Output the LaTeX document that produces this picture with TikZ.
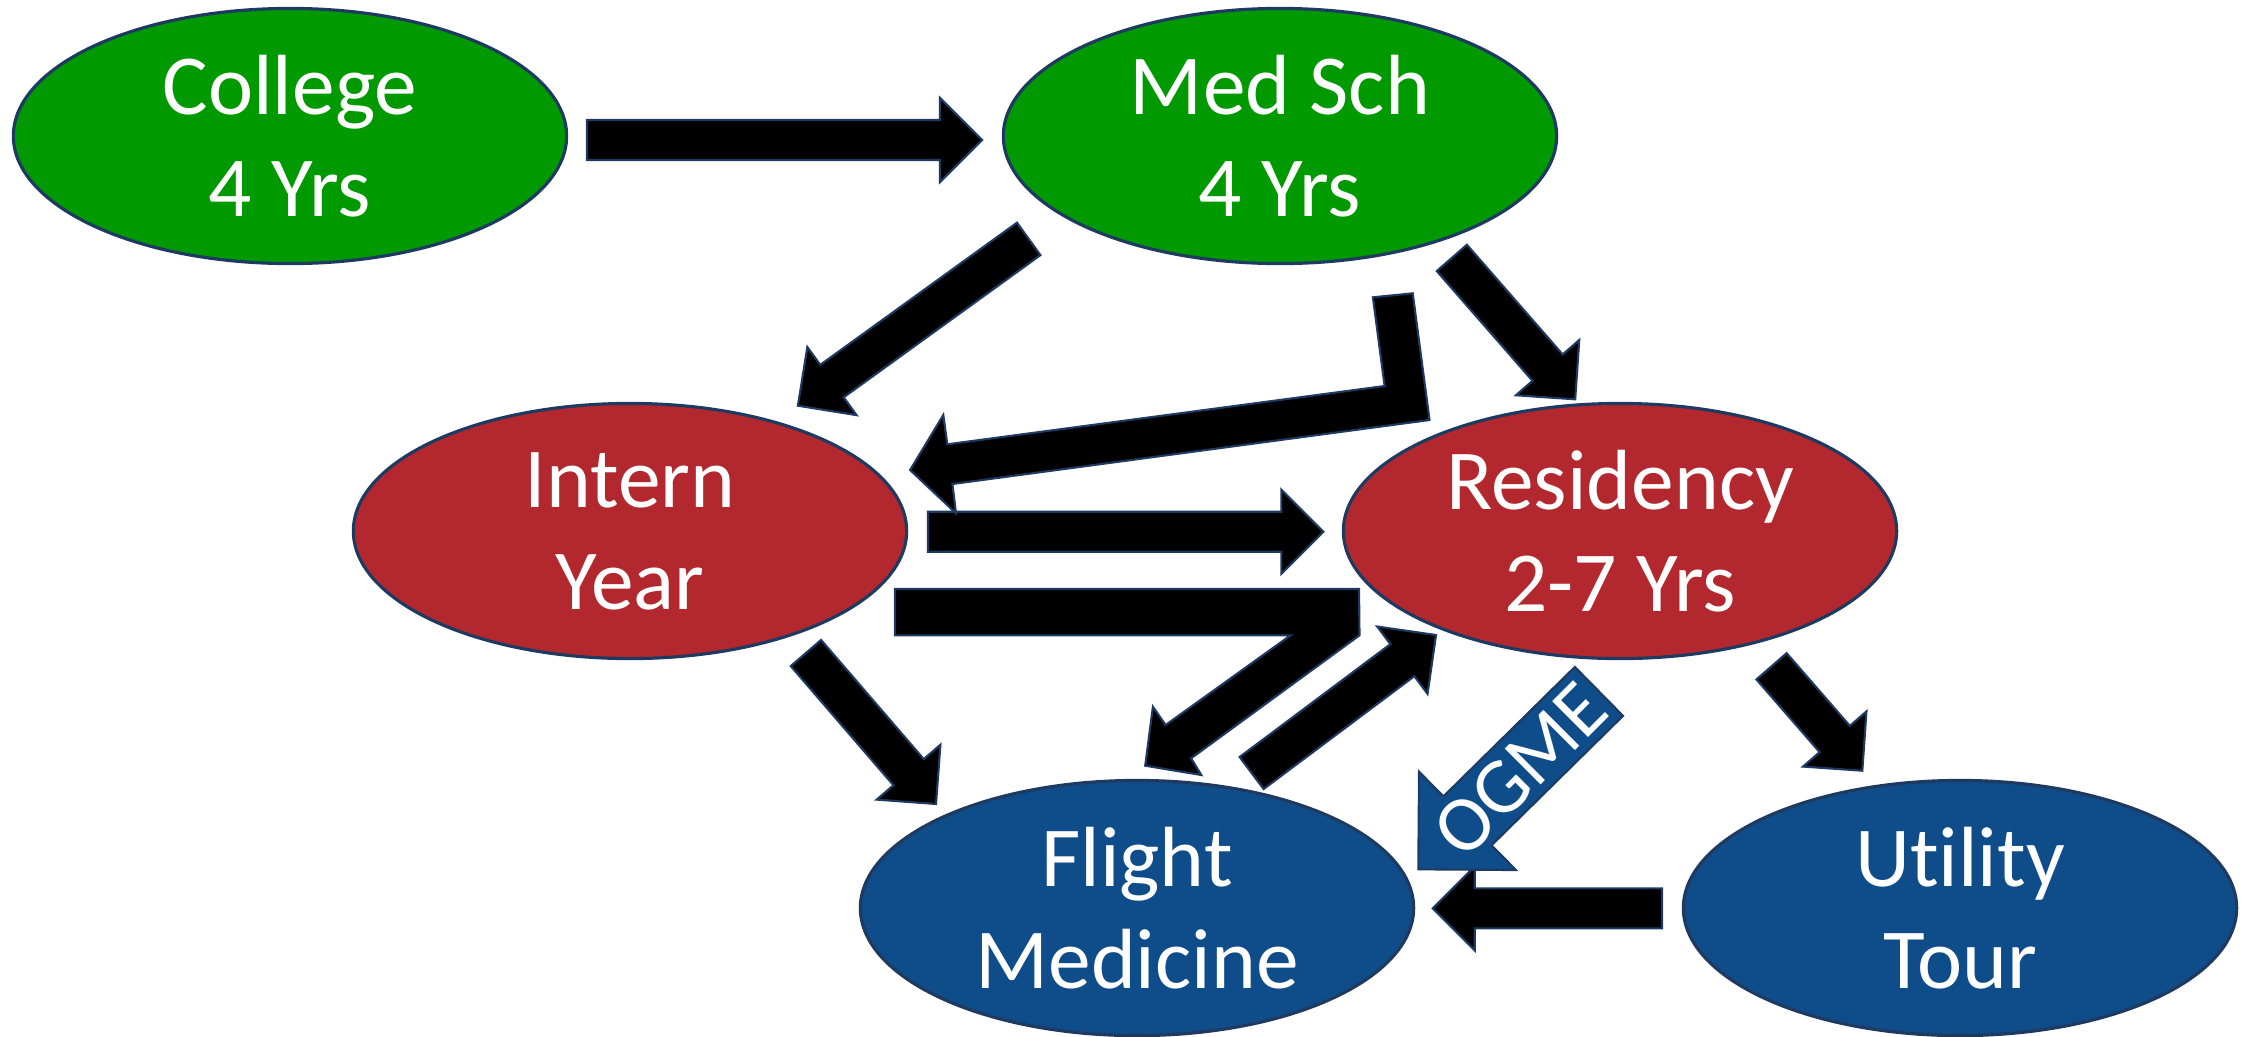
\documentclass[tikz,border=0pt]{standalone}
\usepackage{fontspec}
\setmainfont{Carlito}[Ligatures=NoCommon]
\usetikzlibrary{shapes.geometric,calc}

\definecolor{schgreen}{HTML}{009900}
\definecolor{resred}{HTML}{B2282E}
\definecolor{flyblue}{HTML}{0F4C8A}
\definecolor{rimblue}{HTML}{1F3A60}

\begin{document}
\begin{tikzpicture}[x=0.01cm,y=-0.01cm,
  stage/.style={ellipse,draw=rimblue,line width=0.9pt,minimum width=5.53cm,minimum height=2.55cm,
    inner sep=0pt,align=center,text=white,font=\fontsize{24.3}{29}\selectfont},
  blk/.style={fill=black,draw=rimblue,line width=0.6pt,line join=miter}]
\useasboundingbox (0,0) rectangle (2252,1036);

\node[stage,fill=schgreen] (college) at (290,136) {College\\4 Yrs};
\node[stage,fill=schgreen] (medsch) at (1280,136) {Med Sch\\4 Yrs};
\node[stage,fill=resred] (intern) at (630,531) {Intern\\Year};
\node[stage,fill=resred] (residency) at (1620,531) {Residency\\2-7 Yrs};
\node[stage,fill=flyblue] (flight) at (1137,908) {Flight\\Medicine};
\node[stage,fill=flyblue] (utility) at (1960,908) {Utility\\Tour};

% ends of the straight arrows
\coordinate (colmed1) at (587,140);     \coordinate (colmed2) at (982,140);
\coordinate (medint1) at (1028.7,238.9); \coordinate (medint2) at (797.9,405.7);
\coordinate (medres1) at (1451.8,257.9); \coordinate (medres2) at (1575.2,399.3);
\coordinate (intres1) at (928,531.7);   \coordinate (intres2) at (1323.4,531.7);
\coordinate (flyres1) at (1251.6,773);  \coordinate (flyres2) at (1436,635);
\coordinate (intfly1) at (805.9,653);   \coordinate (intfly2) at (936,804);
\coordinate (resutl1) at (1771.5,666.3); \coordinate (resutl2) at (1862.3,770.7);
\coordinate (utlfly1) at (1662,908.3);  \coordinate (utlfly2) at (1432.7,908.3);

\foreach \s/\t in {colmed1/colmed2,medint1/medint2,medres1/medres2,intres1/intres2,
                   flyres1/flyres2,intfly1/intfly2,resutl1/resutl2,utlfly1/utlfly2}{
  \coordinate (hb) at ($(\t)!0.42cm!(\s)$);
  \draw[blk] ($(\s)!0.2cm!90:(\t)$) -- ($(hb)!0.2cm!90:(\t)$) -- ($(hb)!0.42cm!90:(\t)$) -- (\t)
    -- ($(hb)!0.42cm!-90:(\t)$) -- ($(hb)!0.2cm!-90:(\t)$) -- ($(\s)!0.2cm!-90:(\t)$) -- cycle;
}

% bent arrow Med Sch -> Intern
\coordinate (medbendtip) at (910.1,470);
\draw[blk] (1372.9,297.3) -- (1412.7,293.3) -- (1429.5,420) -- (952.4,484) -- (956,513.3)
  -- (medbendtip) -- (943.3,415) -- (947.3,444.3) -- (1384.6,386) -- cycle;

% bar with bent arrow Intern -> Flight
\coordinate (barflytip) at (1145.2,765.7);
\draw[blk] (895,589) -- (1359,589) -- (1359.5,635.3) -- (1191.1,758.3) -- (1201.3,775)
  -- (barflytip) -- (1152.9,706.7) -- (1165.6,725) -- (1290.6,635.3) -- (895,635.3) -- cycle;

% OGME arrow
\coordinate (ogme1) at (1598.9,691.4);
\coordinate (ogme2) at (1418.3,869.3);
\coordinate (ohb) at ($(ogme2)!0.69cm!(ogme1)$);
\draw[blk,fill=flyblue] ($(ogme1)!0.343cm!90:(ogme2)$) -- ($(ohb)!0.343cm!90:(ogme2)$)
  -- ($(ohb)!0.69cm!90:(ogme2)$) -- (ogme2) -- ($(ohb)!0.69cm!-90:(ogme2)$)
  -- ($(ohb)!0.343cm!-90:(ogme2)$) -- ($(ogme1)!0.343cm!-90:(ogme2)$) -- cycle;
\node[rotate=45,text=white,font=\fontsize{22.5}{22.5}\selectfont,inner sep=0pt] (ogme) at (1520,770) {OGME};

\end{tikzpicture}
\end{document}
